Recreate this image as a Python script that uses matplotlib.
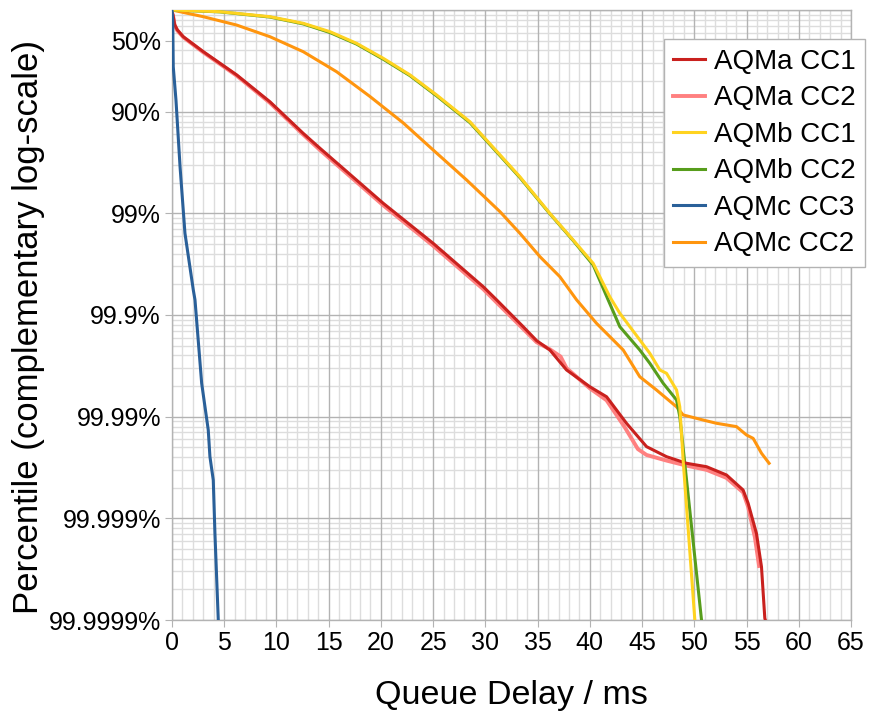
import matplotlib
matplotlib.use("Agg")
import matplotlib.pyplot as plt
from matplotlib.ticker import FixedLocator, NullFormatter, MultipleLocator

plt.rcParams["font.family"] = ["Liberation Sans", "DejaVu Sans"]

# queue delay (ms) and tail probability (1 - percentile)
aqma_cc1_x = [0, 0.1, 0.25, 0.5, 1.08, 3.0, 6.19, 9.38, 12.56, 14.16, 20.22, 25.0, 29.79,
              31.07, 33.62, 34.9, 36.17, 37.77, 40.0, 41.6, 43.51, 45.43, 47.34, 49.25,
              51.17, 53.08, 54.67, 55.15, 55.95, 56.43, 56.75, 56.8]
aqma_cc1_y = [0.95, 0.89, 0.72, 0.64, 0.546, 0.389, 0.230, 0.125, 0.0612, 0.0437, 0.01256,
              5.07e-3, 1.90e-3, 1.41e-3, 7.67e-4, 5.6e-4, 4.53e-4, 2.88e-4, 1.97e-4, 1.57e-4,
              8.6e-5, 5.07e-5, 4.04e-5, 3.48e-5, 3.22e-5, 2.67e-5, 1.90e-5, 1.41e-5, 7.1e-6,
              3.34e-6, 1.04e-6, 1.0e-6]

aqma_cc2_x = [0, 0.1, 0.25, 0.5, 1.08, 3.0, 6.19, 9.38, 12.56, 14.16, 20.22, 25.0, 29.79,
              31.07, 33.62, 34.9, 36.17, 37.2, 37.77, 40.0, 41.6, 43.3, 44.6, 45.43, 47.34,
              49.25, 51.17, 53.08, 54.67, 55.15, 55.8, 56.2]
aqma_cc2_y = [0.95, 0.88, 0.71, 0.63, 0.54, 0.383, 0.226, 0.122, 0.0595, 0.042, 0.0120,
              4.8e-3, 1.8e-3, 1.33e-3, 7.3e-4, 5.4e-4, 4.6e-4, 3.9e-4, 3.0e-4, 1.9e-4,
              1.45e-4, 8.0e-5, 4.8e-5, 4.2e-5, 3.7e-5, 3.3e-5, 3.0e-5, 2.5e-5, 1.8e-5, 1.3e-5,
              6.5e-6, 3.4e-6]

aqmb_cc1_x = [0, 4.59, 9.38, 12.56, 15.12, 17.67, 20.22, 22.78, 25.33, 28.52, 33.3, 36.17,
              38.4, 40.32, 41.91, 42.87, 45.74, 46.7, 47.34, 48.3, 48.61, 48.93, 50.05]
aqmb_cc1_y = [1.0, 0.962, 0.859, 0.740, 0.612, 0.470, 0.335, 0.230, 0.146, 0.0796, 0.0229,
              0.0100, 5.47e-3, 3.22e-3, 1.51e-3, 1.04e-3, 4.2e-4, 2.88e-4, 2.67e-4, 1.83e-4,
              1.25e-4, 3.75e-5, 1.0e-6]

aqmb_cc2_x = [0, 4.59, 9.38, 12.56, 15.12, 17.67, 20.22, 22.78, 25.33, 28.52, 33.3, 36.17,
              38.4, 40.32, 41.75, 42.87, 44.78, 45.74, 47.02, 48.3, 48.61, 50.69]
aqmb_cc2_y = [1.0, 0.958, 0.852, 0.730, 0.600, 0.462, 0.328, 0.226, 0.143, 0.078, 0.0225,
              0.0099, 5.4e-3, 3.1e-3, 1.41e-3, 7.67e-4, 4.53e-4, 3.35e-4, 2.13e-4, 1.46e-4,
              1.0e-4, 1.0e-6]

aqmc_cc3_x = [0, 0.07, 0.12, 0.38, 0.77, 1.24, 2.04, 2.2, 2.84, 3.47, 3.63, 3.95, 4.11, 4.43]
aqmc_cc3_y = [1.0, 0.8, 0.277, 0.130, 0.0288, 6.37e-3, 1.76e-3, 1.41e-3, 2.13e-4, 7.4e-5,
              4.05e-5, 2.38e-5, 7.1e-6, 1.0e-6]

aqmc_cc2_x = [0, 3.0, 6.19, 9.38, 12.56, 15.76, 18.95, 22.13, 25.0, 28.2, 31.39, 33.3,
              35.22, 37.13, 38.73, 40.64, 43.19, 44.78, 46.38, 48.3, 48.93, 50.84, 52.12,
              54.04, 54.99, 55.63, 56.43, 57.16]
aqmc_cc2_y = [1.0, 0.859, 0.711, 0.546, 0.389, 0.247, 0.141, 0.0776, 0.042, 0.0213, 0.0104,
              6.37e-3, 3.75e-3, 2.38e-3, 1.41e-3, 8.28e-4, 4.53e-4, 2.47e-4, 1.83e-4,
              1.25e-4, 1.04e-4, 9.27e-5, 8.61e-5, 7.98e-5, 6.61e-5, 6.12e-5, 4.37e-5, 3.48e-5]

tick_vals = [0.5, 0.1, 0.01, 1e-3, 1e-4, 1e-5, 1e-6]
tick_labels = ["50%", "90%", "99%", "99.9%", "99.99%", "99.999%", "99.9999%"]

fig = plt.figure(figsize=(8.7, 7.13), dpi=100)
ax = fig.add_axes([172 / 870, 1 - 620 / 713, (851 - 172) / 870, (620 - 10) / 713])

lw = 2.2
ax.plot(aqma_cc1_x, aqma_cc1_y, color="#c9211e", lw=lw, zorder=4, label="AQMa CC1")
ax.plot(aqma_cc2_x, aqma_cc2_y, color="#ff8080", lw=lw + 0.6, zorder=3, label="AQMa CC2")
ax.plot(aqmb_cc1_x, aqmb_cc1_y, color="#ffd320", lw=lw, zorder=4, label="AQMb CC1")
ax.plot(aqmb_cc2_x, aqmb_cc2_y, color="#579d1c", lw=lw, zorder=3, label="AQMb CC2")
ax.plot(aqmc_cc3_x, aqmc_cc3_y, color="#2a6099", lw=lw, zorder=4, label="AQMc CC3")
ax.plot(aqmc_cc2_x, aqmc_cc2_y, color="#ff950e", lw=lw, zorder=2, label="AQMc CC2")

ax.set_yscale("log")
ax.set_ylim(1e-6, 1)
ax.set_xlim(0, 65)

ax.xaxis.set_major_locator(MultipleLocator(5))
ax.xaxis.set_minor_locator(MultipleLocator(1))
ax.yaxis.set_major_locator(FixedLocator(tick_vals))
ax.set_yticklabels(tick_labels)
minor_y = [m * 10.0 ** e for e in range(-6, 0) for m in range(1, 10)]
ax.yaxis.set_minor_locator(FixedLocator(minor_y))
ax.yaxis.set_minor_formatter(NullFormatter())

# grid: decades are major lines, rest minor
decades = [10.0 ** e for e in range(-6, 1)]
for v in decades:
    ax.axhline(v, color="#b3b3b3", lw=1.0, zorder=1)
for v in minor_y:
    if v not in decades:
        ax.axhline(v, color="#dddddd", lw=1.0, zorder=0.5)
ax.grid(True, which="major", axis="x", color="#b3b3b3", lw=1.0)
ax.grid(True, which="minor", axis="x", color="#dddddd", lw=1.0)
ax.set_axisbelow(True)

for s in ax.spines.values():
    s.set_color("#b3b3b3")
    s.set_linewidth(1.0)
ax.tick_params(which="major", length=5, color="#b3b3b3", labelsize=18, pad=3)
ax.tick_params(which="minor", length=0)

ax.set_xlabel("Queue Delay / ms", fontsize=24.5, labelpad=18)
ax.set_ylabel("Percentile (complementary log-scale)", fontsize=25)
ax.yaxis.set_label_coords(-0.187, 0.48)

leg = ax.legend(loc="upper right", bbox_to_anchor=(865 / 870, 1 - 39 / 713),
                bbox_transform=fig.transFigure, fontsize=20, frameon=True,
                fancybox=False, edgecolor="#b3b3b3", framealpha=1,
                handlelength=1.15, handletextpad=0.3, labelspacing=0.38,
                borderpad=0.35, borderaxespad=0)
leg.get_frame().set_linewidth(1.0)
leg.set_zorder(10)

plt.savefig("out.png", dpi=100)
